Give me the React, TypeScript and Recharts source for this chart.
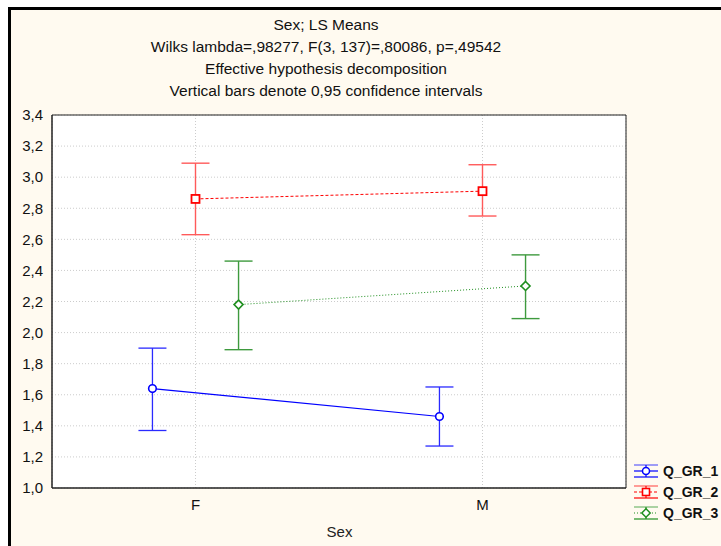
import React from "react";
import {
  ComposedChart,
  Line,
  ErrorBar,
  XAxis,
  YAxis,
  CartesianGrid,
  ReferenceArea,
} from "recharts";

const categories = ["F", "M"];
const seriesNames = ["Q_GR_1", "Q_GR_2", "Q_GR_3"];

// LS means and 0,95 confidence limits
const means1 = [1.64, 1.46];
const lower1 = [1.37, 1.27];
const upper1 = [1.9, 1.65];

const means2 = [2.86, 2.91];
const lower2 = [2.63, 2.75];
const upper2 = [3.09, 3.08];

const means3 = [2.18, 2.3];
const lower3 = [1.89, 2.09];
const upper3 = [2.46, 2.5];

const yTicks = [1.0, 1.2, 1.4, 1.6, 1.8, 2.0, 2.2, 2.4, 2.6, 2.8, 3.0, 3.2, 3.4];

const FONT = '"Liberation Sans", Arial, sans-serif';
const BLUE = "#0000ff";
const RED = "#ff0000";
const GREEN = "#1f8f1f";

// categories sit at 1, 2; the three series are shifted sideways
const offsets = [-0.15, 0, 0.15];

function build(means: number[], lower: number[], upper: number[], off: number) {
  return categories.map((c, i) => ({
    x: i + 1 + off,
    y: means[i],
    err: [means[i] - lower[i], upper[i] - means[i]],
  }));
}

const data1 = build(means1, lower1, upper1, offsets[0]);
const data2 = build(means2, lower2, upper2, offsets[1]);
const data3 = build(means3, lower3, upper3, offsets[2]);

const circleDot = (p: any) => (
  <circle key={`c${p.index}`} cx={p.cx} cy={p.cy} r={3.8} fill="#fff" stroke={BLUE} strokeWidth={1.6} />
);
const squareDot = (p: any) => (
  <rect key={`s${p.index}`} x={p.cx - 4} y={p.cy - 4} width={8} height={8} fill="#fff" stroke={RED} strokeWidth={1.8} />
);
const diamondDot = (p: any) => (
  <path
    key={`d${p.index}`}
    d={`M${p.cx},${p.cy - 4.5} L${p.cx + 4.5},${p.cy} L${p.cx},${p.cy + 4.5} L${p.cx - 4.5},${p.cy} Z`}
    fill="#fff"
    stroke={GREEN}
    strokeWidth={1.6}
  />
);

function LegendIcon({ color, dash, marker }: { color: string; dash?: string; marker: string }) {
  return (
    <svg width={26} height={16} style={{ display: "block" }}>
      <line x1={1} y1={2} x2={25} y2={2} stroke={color} strokeOpacity={0.5} strokeWidth={1.5} />
      <line x1={1} y1={14} x2={25} y2={14} stroke={color} strokeWidth={1.2} />
      <line x1={13} y1={2} x2={13} y2={14} stroke={color} strokeWidth={1.2} />
      <line x1={1} y1={8} x2={25} y2={8} stroke={color} strokeWidth={1.2} strokeDasharray={dash} />
      {marker === "circle" && <circle cx={13} cy={8} r={3.5} fill="#fff" stroke={color} strokeWidth={1.5} />}
      {marker === "square" && <rect x={9.5} y={4.5} width={7} height={7} fill="#fff" stroke={color} strokeWidth={1.6} />}
      {marker === "diamond" && (
        <path d="M13,3.8 L17.2,8 L13,12.2 L8.8,8 Z" fill="#fff" stroke={color} strokeWidth={1.5} />
      )}
    </svg>
  );
}

const legendItems = [
  { color: BLUE, dash: undefined, marker: "circle" },
  { color: RED, dash: "3 2", marker: "square" },
  { color: GREEN, dash: "1 2", marker: "diamond" },
];

const titleLines = [
  "Sex; LS Means",
  "Wilks lambda=,98277, F(3, 137)=,80086, p=,49542",
  "Effective hypothesis decomposition",
  "Vertical bars denote 0,95 confidence intervals",
];

export default function App() {
  return (
    <div style={{ position: "relative", width: 721, height: 546, background: "#fff", overflow: "hidden", fontFamily: FONT }}>
      <style>{"body{margin:0;overflow:hidden}"}</style>
      <div
        style={{
          position: "absolute",
          left: 8,
          top: 7,
          width: 713,
          height: 539,
          boxSizing: "border-box",
          borderLeft: "3px solid #000",
          borderTop: "3px solid #000",
          background: "#fffaf0",
        }}
      />
      {titleLines.map((t, i) => (
        <div
          key={t}
          style={{
            position: "absolute",
            left: 0,
            width: 652,
            top: 16 + i * 22,
            textAlign: "center",
            fontSize: 15.5,
            lineHeight: "18px",
            color: "#111",
          }}
        >
          {t}
        </div>
      ))}
      <div style={{ position: "absolute", left: 0, top: 0 }}>
        <ComposedChart width={721} height={546} margin={{ top: 115, right: 95, bottom: 28, left: 12 }}>
          <CartesianGrid fill="#fff" fillOpacity={1} stroke="#cccccc" strokeDasharray="1 2" />
          <XAxis
            type="number"
            dataKey="x"
            domain={[0.5, 2.5]}
            ticks={[1, 2]}
            tickFormatter={(v: number) => categories[Math.round(v) - 1] ?? ""}
            allowDataOverflow
            height={30}
            tickSize={0}
            tickMargin={11}
            axisLine={{ stroke: "#222" }}
            tick={{ fill: "#111", fontSize: 15, fontFamily: FONT }}
          />
          <YAxis
            type="number"
            domain={[1, 3.4]}
            ticks={yTicks}
            interval={0}
            allowDataOverflow
            width={40}
            tickSize={0}
            tickMargin={9}
            tickFormatter={(v: number) => v.toFixed(1).replace(".", ",")}
            axisLine={{ stroke: "#222" }}
            tick={{ fill: "#111", fontSize: 15, fontFamily: FONT }}
          />
          <ReferenceArea x1={0.5} x2={2.5} y1={1} y2={3.4} fill="none" stroke="#222" strokeWidth={1} ifOverflow="visible" />
          <Line
            data={data1}
            dataKey="y"
            name={seriesNames[0]}
            stroke={BLUE}
            strokeWidth={1.2}
            dot={circleDot}
            activeDot={false}
            isAnimationActive={false}
          >
            <ErrorBar dataKey="err" direction="y" width={14} stroke="#2a2aff" strokeWidth={1.3} />
          </Line>
          <Line
            data={data2}
            dataKey="y"
            name={seriesNames[1]}
            stroke={RED}
            strokeWidth={1}
            strokeDasharray="3 2"
            dot={squareDot}
            activeDot={false}
            isAnimationActive={false}
          >
            <ErrorBar dataKey="err" direction="y" width={14} stroke="#ff5a5a" strokeWidth={1.4} />
          </Line>
          <Line
            data={data3}
            dataKey="y"
            name={seriesNames[2]}
            stroke={GREEN}
            strokeWidth={1}
            strokeDasharray="1 2"
            dot={diamondDot}
            activeDot={false}
            isAnimationActive={false}
          >
            <ErrorBar dataKey="err" direction="y" width={14} stroke="#3e9a3e" strokeWidth={1.4} />
          </Line>
        </ComposedChart>
      </div>
      <div
        style={{
          position: "absolute",
          left: 0,
          width: 679,
          top: 523,
          textAlign: "center",
          fontSize: 15,
          lineHeight: "18px",
          color: "#222",
        }}
      >
        Sex
      </div>
      {legendItems.map((it, i) => (
        <div
          key={seriesNames[i]}
          style={{
            position: "absolute",
            left: 633,
            top: 463 + i * 21,
            display: "flex",
            alignItems: "center",
            whiteSpace: "nowrap",
          }}
        >
          <LegendIcon color={it.color} dash={it.dash} marker={it.marker} />
          <span style={{ marginLeft: 4, fontSize: 14, fontWeight: "bold", color: "#111" }}>{seriesNames[i]}</span>
        </div>
      ))}
    </div>
  );
}
